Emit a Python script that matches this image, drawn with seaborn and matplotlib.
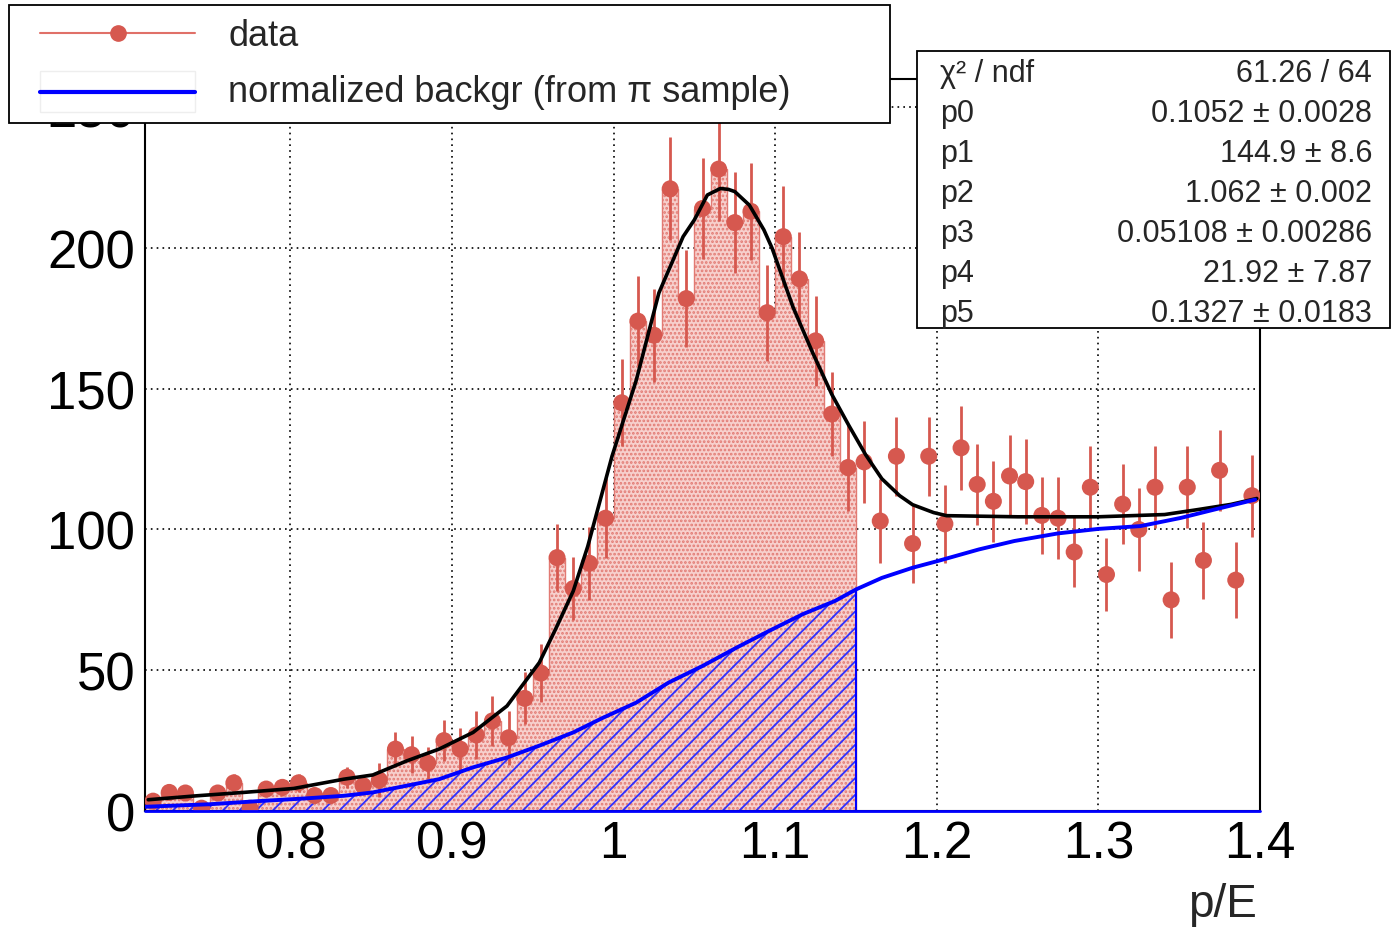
import numpy as np
import matplotlib
matplotlib.use("Agg")
import matplotlib.pyplot as plt
import seaborn as sns
from matplotlib.patches import Rectangle
from matplotlib.lines import Line2D
from matplotlib.ticker import MultipleLocator, FuncFormatter

# p/E histogram, bins of 0.01 starting at 0.71
bin_lo = 0.71
bin_width = 0.01
counts = [3.5, 6.6, 6.4, 1.0, 6.4, 10.0, 1.0, 7.8, 8.4, 10.0,
          5.5, 5.5, 12.0, 9.0, 11.0, 22.0, 20.0, 17.0, 25.0, 22.0,
          27.0, 32.0, 26.0, 40.0, 49.0, 90.0, 79.0, 88.0, 104.0, 145.0,
          174.0, 169.0, 221.0, 182.0, 214.0, 228.0, 209.0, 213.0, 177.0, 204.0,
          189.0, 167.0, 141.0, 122.0, 124.0, 103.0, 126.0, 95.0, 126.0, 102.0,
          129.0, 116.0, 110.0, 119.0, 117.0, 105.0, 104.0, 92.0, 115.0, 84.0,
          109.0, 100.0, 115.0, 75.0, 115.0, 89.0, 121.0, 82.0, 112.0]
errors = [2.0, 2.4, 2.4, 1.5, 2.4, 3.2, 1.5, 3.0, 3.0, 3.3,
          2.5, 2.5, 3.8, 3.3, 5.9, 6.0, 6.5, 5.6, 7.4, 7.4,
          8.5, 8.9, 9.5, 9.2, 10.3, 11.8, 11.2, 13.0, 14.2, 15.4,
          16.0, 16.5, 18.3, 17.1, 18.0, 18.5, 18.0, 17.3, 17.0, 18.0,
          16.5, 16.0, 15.0, 15.5, 14.6, 15.0, 14.0, 14.0, 14.0, 13.8,
          15.0, 14.5, 14.4, 14.4, 15.0, 13.7, 14.6, 12.6, 14.5, 13.0,
          14.2, 14.8, 14.5, 13.4, 14.5, 13.7, 14.3, 13.6, 14.5]
sig_cut = 1.15  # filled histogram stops here

# normalized background from pi sample
bkg_x = [0.71, 0.75, 0.78, 0.81, 0.833, 0.851, 0.872, 0.892, 0.913, 0.934,
         0.954, 0.975, 0.993, 1.014, 1.034, 1.055, 1.076, 1.096, 1.117, 1.137,
         1.15, 1.166, 1.185, 1.2, 1.226, 1.248, 1.275, 1.3, 1.326, 1.351,
         1.372, 1.397]
bkg_y = [1.5, 2.4, 3.5, 4.5, 5.4, 6.6, 9.0, 11.3, 15.5, 19.0,
         23.2, 27.9, 33.0, 38.5, 45.6, 51.5, 58.0, 63.9, 69.9, 74.6,
         78.7, 82.8, 86.4, 88.7, 92.9, 95.9, 98.6, 100.2, 101.2, 104.1,
         107.1, 110.6]

# fit curve
fit_x = [0.712, 0.742, 0.771, 0.802, 0.833, 0.851, 0.872, 0.892, 0.913, 0.934,
         0.954, 0.964, 0.975, 0.984, 0.999, 1.014, 1.028, 1.043, 1.050, 1.058,
         1.066, 1.071, 1.075, 1.084, 1.093, 1.098, 1.111, 1.123, 1.135, 1.1455,
         1.156, 1.166, 1.177, 1.185, 1.198, 1.206, 1.25, 1.30, 1.341, 1.362,
         1.382, 1.398]
fit_y = [4.0, 5.4, 6.6, 8.0, 11.3, 12.8, 17.8, 22.0, 27.9, 37.3,
         52.7, 64.5, 78.1, 94.0, 126.0, 153.0, 184.0, 204.0, 210.0, 218.8,
         221.1, 220.8, 220.0, 215.2, 206.4, 200.0, 179.0, 163.0, 148.0, 137.0,
         126.5, 118.0, 112.0, 108.8, 106.0, 104.9, 104.5, 104.5, 105.3, 107.1,
         108.9, 111.0]

stat_names = ["χ² / ndf", "p0", "p1", "p2", "p3", "p4", "p5"]
stat_vals = ["61.26 / 64", "0.1052 ± 0.0028", "144.9 ± 8.6", "1.062 ± 0.002",
             "0.05108 ± 0.00286", "21.92 ± 7.87", "0.1327 ± 0.0183"]

RED = "#d6584f"
BLUE = "#0000ff"
W, H = 1391, 929

sns.set_style("white")
plt.rcParams["font.family"] = ["Liberation Sans", "DejaVu Sans"]
plt.rcParams["hatch.linewidth"] = 1.3


def fx(px):
    return px / W


def fy(py):
    return 1 - py / H


fig = plt.figure(figsize=(W / 100, H / 100), dpi=100)
ax = fig.add_axes([fx(145), fy(812), (1260 - 145) / W, (812 - 80) / H])

counts = np.array(counts)
errors = np.array(errors)
centers = bin_lo + bin_width * (np.arange(len(counts)) + 0.5)
edges = bin_lo + bin_width * np.arange(len(counts) + 1)
n_sig = int(round((sig_cut - bin_lo) / bin_width))

# filled data histogram (signal region)
ax.stairs(counts[:n_sig], edges[:n_sig + 1], fill=True, facecolor="#f7d0cd",
          edgecolor="#e27a73", hatch="....", linewidth=0, zorder=1)
ax.stairs(counts[:n_sig], edges[:n_sig + 1], color="#e27a73", linewidth=1, zorder=1.5)

# hatched background under the blue curve
bx = np.array(bkg_x)
by = np.array(bkg_y)
m = bx <= sig_cut + 1e-9
ax.fill_between(bx[m], 0, by[m], facecolor="none", edgecolor="#3030ff", hatch="//",
                linewidth=0, zorder=2)
ax.vlines(sig_cut, 0, by[np.argmin(np.abs(bx - sig_cut))], color=BLUE, lw=1.5, zorder=2)

# data points
ax.vlines(centers, counts - errors, counts + errors, color=RED, lw=2, zorder=4)
sns.scatterplot(x=centers, y=counts, color=RED, s=150, edgecolor="none",
                ax=ax, zorder=4.5)

# fit and background curves
sns.lineplot(x=fit_x, y=fit_y, color="black", lw=2.6, ax=ax, zorder=5)
sns.lineplot(x=bkg_x, y=bkg_y, color=BLUE, lw=2.8, ax=ax, zorder=6)
ax.plot([edges[0], edges[-1]], [0, 0], color=BLUE, lw=2, zorder=6, clip_on=False)

ax.set_xlim(0.71, 1.40)
ax.set_ylim(0, 260)
ax.xaxis.set_major_locator(MultipleLocator(0.1))
ax.xaxis.set_minor_locator(MultipleLocator(0.02))
ax.yaxis.set_major_locator(MultipleLocator(50))
ax.yaxis.set_minor_locator(MultipleLocator(10))
ax.xaxis.set_major_formatter(FuncFormatter(lambda v, p: f"{v:g}"))
ax.yaxis.set_major_formatter(FuncFormatter(lambda v, p: f"{v:g}"))
ax.tick_params(axis="both", which="both", direction="in", top=False, right=False,
               width=1.5, colors="black")
ax.tick_params(axis="x", which="major", length=14, labelsize=37, pad=6)
ax.tick_params(axis="x", which="minor", length=7)
ax.tick_params(axis="y", which="major", length=23, labelsize=38, pad=7)
ax.tick_params(axis="y", which="minor", length=11.5)
ax.grid(True, which="major", color="black", linestyle=(0, (1, 2.5)), lw=1.2)
ax.set_axisbelow(True)
for s in ax.spines.values():
    s.set_visible(True)
    s.set_color("black")
    s.set_linewidth(1.5)
ax.set_xlabel("")
ax.set_ylabel("")

fig.text(fx(1257), fy(917), "p/E", ha="right", va="baseline", fontsize=33)

# legend box
fig.add_artist(Rectangle((fx(9), fy(124)), (890 - 9) / W, (124 - 6) / H,
                         transform=fig.transFigure, facecolor="white",
                         edgecolor="black", lw=1.3, zorder=10))
fig.add_artist(Line2D([fx(40), fx(195)], [fy(34), fy(34)], color="#e07068", lw=1.5,
                      transform=fig.transFigure, zorder=11))
fig.add_artist(Line2D([fx(118)], [fy(34)], color=RED, marker="o", ms=11, lw=0,
                      transform=fig.transFigure, zorder=11))
fig.add_artist(Rectangle((fx(40), fy(113)), 155 / W, 41 / H,
                         transform=fig.transFigure, facecolor="white",
                         edgecolor="#eeeeee", lw=1, zorder=11))
fig.add_artist(Line2D([fx(40), fx(195)], [fy(93), fy(93)], color=BLUE, lw=3,
                      transform=fig.transFigure, zorder=12))
fig.text(fx(228), fy(46), "data", fontsize=26, va="baseline", zorder=12)
fig.text(fx(228), fy(102), "normalized backgr (from π sample)", fontsize=26,
         va="baseline", zorder=12)

# fit statistics box
fig.add_artist(Rectangle((fx(917), fy(329)), (1390 - 917) / W, (329 - 52) / H,
                         transform=fig.transFigure, facecolor="white",
                         edgecolor="black", lw=1.3, zorder=10))
for i, (name, val) in enumerate(zip(stat_names, stat_vals)):
    yb = fy(81.7 + 40 * i)
    fig.text(fx(940), yb, name, fontsize=22, va="baseline", zorder=12)
    fig.text(fx(1372), yb, val, fontsize=22, va="baseline", ha="right", zorder=12)

fig.savefig("out.png", dpi=100)
